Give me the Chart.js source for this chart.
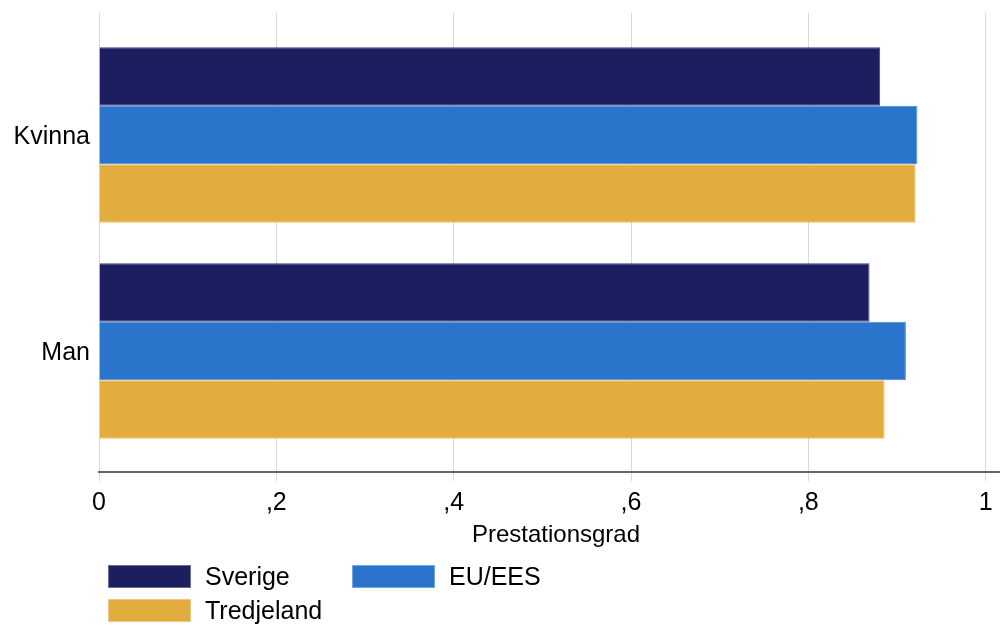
<!DOCTYPE html>
<html lang="sv">
<head>
    <meta charset="UTF-8" />
    <title>Prestationsgrad per kön och ursprung</title>
    <script src="https://cdn.jsdelivr.net/npm/chart.js"></script>
    <style>
        html, body {
            margin: 0;
            padding: 0;
            background: #fff;
            overflow: hidden;
            font-family: 'Liberation Sans', Arial, sans-serif;
        }
        #wrap {
            position: relative;
            width: 1013px;
            height: 625px;
        }
        #legend {
            position: absolute;
            left: 0;
            top: 0;
        }
        .item {
            position: absolute;
            height: 22px;
            font-size: 25px;
            color: #000;
        }
        .item .box {
            position: absolute;
            left: 0;
            top: 0;
            width: 81px;
            height: 21px;
            border: 1px solid rgba(255, 255, 255, 0.35);
        }
        .item .txt {
            position: absolute;
            left: 97px;
            top: -4px;
            white-space: nowrap;
            line-height: 30px;
        }
    </style>
</head>
<body>
    <div id="wrap">
        <canvas id="chart"></canvas>
        <div id="legend"></div>
    </div>

    <script>
        // data
        const categories = ['Kvinna', 'Man'];
        const seriesNames = ['Sverige', 'EU/EES', 'Tredjeland'];
        const sverige = [0.881, 0.869];
        const euees = [0.923, 0.910];
        const tredjeland = [0.921, 0.886];
        const xTicks = [0, 0.2, 0.4, 0.6, 0.8, 1];
        const xTickLabels = ['0', ',2', ',4', ',6', ',8', '1'];
        const axisTitle = 'Prestationsgrad';

        const colors = ['#1b1f5f', '#2a74cc', '#e2ad3e'];
        const borders = ['#3b4080', '#4a8ad8', '#ecc060'];
        const values = [sverige, euees, tredjeland];

        // legend positions (two columns, left aligned)
        const legendPos = [[108, 565], [352, 565], [108, 599]];

        Chart.defaults.font.family = "'Liberation Sans', Arial, sans-serif";
        Chart.defaults.color = '#000';

        const datasets = seriesNames.map((name, s) => ({
            label: name,
            data: categories.map((c, i) => ({ x: values[s][i], y: i })),
            backgroundColor: colors[s],
            borderColor: borders[s],
            borderWidth: 1,
            categoryPercentage: 0.8125,
            barPercentage: 1
        }));

        new Chart(document.getElementById('chart'), {
            type: 'bar',
            data: { datasets: datasets },
            options: {
                indexAxis: 'y',
                responsive: true,
                maintainAspectRatio: false,
                animation: false,
                layout: {
                    padding: { top: 13, right: 0, bottom: 73, left: 0 }
                },
                plugins: {
                    legend: { display: false },
                    tooltip: { enabled: false }
                },
                scales: {
                    x: {
                        type: 'linear',
                        min: 0,
                        max: 1.0308,
                        afterBuildTicks: (axis) => {
                            axis.ticks = xTicks.map(v => ({ value: v }));
                        },
                        afterFit: (axis) => {
                            axis.height = 80;
                            axis.paddingLeft = 0;
                            axis.paddingRight = 0;
                        },
                        ticks: {
                            font: { size: 25 },
                            padding: 7,
                            maxRotation: 0,
                            autoSkip: false,
                            callback: (v) => xTickLabels[xTicks.indexOf(v)]
                        },
                        grid: {
                            color: '#d9d9d9',
                            lineWidth: 1,
                            tickLength: 9,
                            tickColor: '#d9d9d9'
                        },
                        border: { display: true, color: '#666', width: 2 },
                        title: {
                            display: true,
                            text: axisTitle,
                            font: { size: 24 },
                            padding: { top: 0, bottom: 2 }
                        }
                    },
                    y: {
                        type: 'linear',
                        offset: false,
                        reverse: true,
                        min: -0.565,
                        max: 1.56,
                        afterBuildTicks: (axis) => {
                            axis.ticks = categories.map((c, i) => ({ value: i }));
                        },
                        afterFit: (axis) => {
                            axis.width = 99;
                            axis.paddingTop = 0;
                            axis.paddingBottom = 0;
                        },
                        ticks: {
                            font: { size: 25 },
                            padding: 9,
                            labelOffset: 2,
                            autoSkip: false,
                            callback: (v) => categories[v]
                        },
                        grid: { display: false, drawTicks: false, offset: false },
                        border: { display: false }
                    }
                }
            }
        });

        // legend as html
        const legend = document.getElementById('legend');
        seriesNames.forEach((name, s) => {
            const item = document.createElement('div');
            item.className = 'item';
            item.style.left = legendPos[s][0] + 'px';
            item.style.top = legendPos[s][1] + 'px';
            item.innerHTML = '<div class="box" style="background:' + colors[s] + '"></div><span class="txt">' + name + '</span>';
            legend.appendChild(item);
        });
    </script>
</body>
</html>
